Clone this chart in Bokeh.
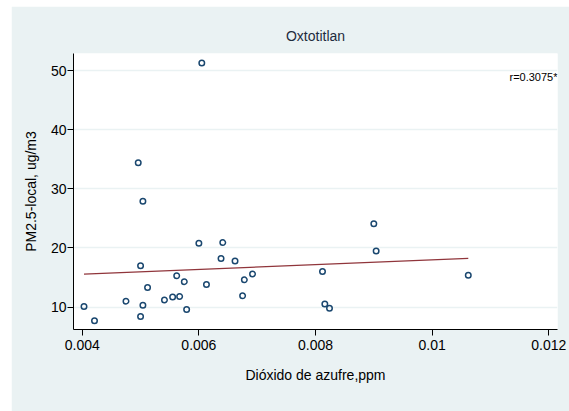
import numpy as np
from bokeh.plotting import figure
from bokeh.models import FixedTicker, Label, Spacer, Range1d
from bokeh.layouts import row, column
from bokeh.embed import file_html
from bokeh.resources import INLINE

# Sulfur dioxide (ppm) vs local PM2.5 (ug/m3) at the Oxtotitlan station
so2_ppm = [0.00403, 0.00421, 0.00475, 0.00496, 0.00504, 0.00500, 0.00504, 0.00500,
           0.00512, 0.00541, 0.00555, 0.00567, 0.00562, 0.00575, 0.00579, 0.00600,
           0.00605, 0.00613, 0.00641, 0.00638, 0.00662, 0.00675, 0.00678, 0.00692,
           0.00812, 0.00816, 0.00824, 0.00900, 0.00904, 0.01062]
pm25_local = [10.1, 7.7, 11.0, 34.4, 27.9, 17.0, 10.3, 8.4,
              13.3, 11.2, 11.7, 11.8, 15.3, 14.3, 9.6, 20.8,
              51.3, 13.8, 20.9, 18.2, 17.8, 11.9, 14.6, 15.6,
              16.0, 10.5, 9.8, 24.1, 19.5, 15.4]

x_ticks = [0.004, 0.006, 0.008, 0.010, 0.012]
x_tick_labels = ["0.004", "0.006", "0.008", "0.01", "0.012"]
y_ticks = [10, 20, 30, 40, 50]
station = "Oxtotitlan"
corr_text = "r=0.3075*"

BG = "#EAF2F3"
NAVY = "#1A476F"
MAROON = "#90353B"
FONT = "Liberation Sans"

p = figure(frame_width=484, frame_height=276,
           x_range=Range1d(0.00385, 0.01215), y_range=Range1d(6.2, 52.9),
           output_backend="svg", toolbar_location=None,
           min_border_left=62, min_border_right=12, min_border_top=47, min_border_bottom=82,
           background_fill_color="white", border_fill_color=BG)
p.outline_line_color = None

p.title.text = station
p.title.align = "center"
p.title.text_font = FONT
p.title.text_font_size = "14px"
p.title.text_font_style = "normal"
p.title.text_color = "#1E2C3E"
p.title.standoff = 19

# Axes
for ax in (p.xaxis[0], p.yaxis[0]):
    ax.axis_line_color = "#000000"
    ax.axis_line_width = 1
    ax.major_tick_line_color = "#000000"
    ax.major_tick_in = 0
    ax.major_tick_out = 6
    ax.minor_tick_line_color = None
    ax.major_label_text_font = FONT
    ax.major_label_text_font_size = "14px"
    ax.major_label_text_color = "#000000"
    ax.axis_label_text_font = FONT
    ax.axis_label_text_font_size = "14px"
    ax.axis_label_text_font_style = "normal"
    ax.axis_label_text_color = "#000000"

p.xaxis.ticker = FixedTicker(ticks=x_ticks)
p.xaxis.major_label_overrides = {t: s for t, s in zip(x_ticks, x_tick_labels)}
p.xaxis.axis_label = "Dióxido de azufre,ppm"
p.xaxis.major_label_standoff = 4
p.xaxis.axis_label_standoff = 14

p.yaxis.ticker = FixedTicker(ticks=y_ticks)
p.yaxis.axis_label = "PM2.5-local, ug/m3"
p.yaxis.major_label_orientation = "horizontal"
p.yaxis.major_label_standoff = 1
p.yaxis.axis_label_standoff = 9

p.xgrid.grid_line_color = None
p.ygrid.ticker = FixedTicker(ticks=y_ticks)
p.ygrid.grid_line_color = BG
p.ygrid.grid_line_width = 1.5

# Linear fit
x = np.array(so2_ppm)
y = np.array(pm25_local)
slope, intercept = np.polyfit(x, y, 1)
fx = np.array([x.min(), x.max()])
p.line(fx, intercept + slope * fx, line_color=MAROON, line_width=1.3)

p.scatter(so2_ppm, pm25_local, marker="circle", size=5.5, fill_color=None,
          line_color=NAVY, line_width=1.5)

p.add_layout(Label(x=0.01215, y=49.0, text=corr_text, text_align="right",
                   text_baseline="middle", text_font=FONT, text_font_size="11px",
                   text_color="#000000"))

layout = column(Spacer(height=6), row(Spacer(width=11), p, spacing=0), spacing=0)

open("out.html", "w").write(file_html(layout, INLINE))
